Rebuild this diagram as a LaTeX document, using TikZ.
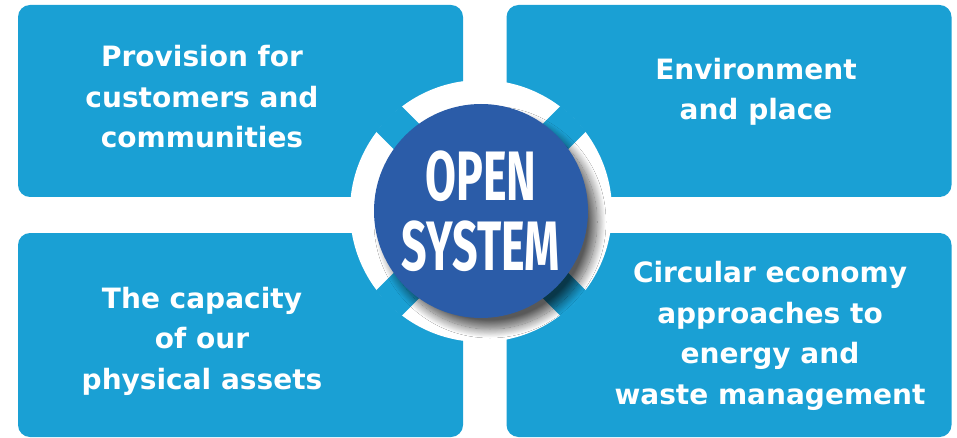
\documentclass[tikz,border=0pt]{standalone}
\usepackage{fontspec}
\setmainfont{Fira Sans}
\newfontfamily\panelfont{DejaVu Sans}
\usetikzlibrary{shadows.blur}

\definecolor{boxblue}{HTML}{1AA0D4}
\definecolor{hubblue}{HTML}{2B5CA8}

\tikzset{
    panel/.style={fill=boxblue, rounded corners=12pt, inner sep=0pt,
        minimum width=445pt},
    paneltext/.style={text=white, align=center, inner sep=0pt,
        font=\panelfont\bfseries\fontsize{28}{40.5}\selectfont},
    hub/.style={circle, fill=hubblue, minimum size=214pt, inner sep=0pt,
        text=white, align=center,
        font=\bfseries\fontsize{70}{72}\selectfont,
        blur shadow={shadow xshift=9pt, shadow yshift=-11pt,
            shadow blur radius=9pt, shadow blur steps=20,
            shadow opacity=65}},
}

\begin{document}
\begin{tikzpicture}[x=1pt, y=-1pt]
        \useasboundingbox (0, 0) rectangle (957, 438);

        % four panels
        \node[panel, minimum height=192pt] at (240.5, 101)  (tl) {};
        \node[panel, minimum height=192pt] at (729, 101)    (tr) {};
        \node[panel, minimum height=204pt] at (240.5, 335)  (bl) {};
        \node[panel, minimum height=204pt] at (729, 335)    (br) {};

        \node[paneltext] at (202, 97)  (tltext) {Provision for\\customers and\\communities};
        \node[paneltext] at (756, 92)  (trtext) {Environment\\and place};
        \node[paneltext] at (202, 341) (bltext) {The capacity\\of our\\physical assets};
        \node[paneltext] at (770, 336) (brtext) {Circular economy\\approaches to\\energy and\\waste management};

        % white ring, cut on the diagonals
        \coordinate (c) at (481, 211);
        \fill[white] (c) circle (131pt);
        \begin{scope}
            \clip (c) circle (131.5pt);
            \foreach \a in {45, 135, 225, 315}
                \fill[boxblue, rotate around={\a:(c)}] (481, 193) rectangle (640, 229);
        \end{scope}

        % hub
        \node[hub] at (c) (sys) {\scalebox{0.64}[1]{OPEN}\\[-2pt]\scalebox{0.64}[1]{SYSTEM}};

    \end{tikzpicture}
\end{document}
